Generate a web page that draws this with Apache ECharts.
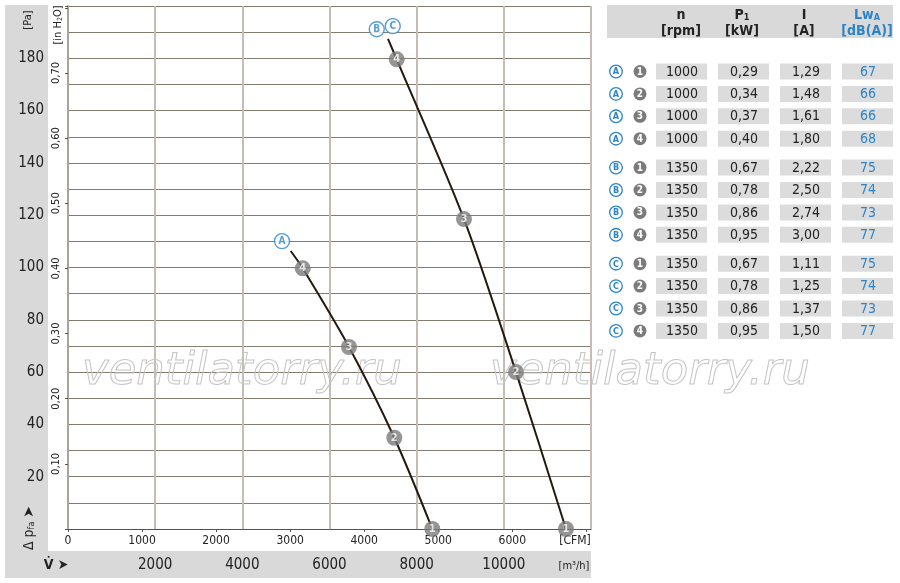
<!DOCTYPE html>
<html><head><meta charset="utf-8">
<script src="https://cdn.jsdelivr.net/npm/echarts@6/dist/echarts.min.js"></script>
<style>html,body{margin:0;padding:0;background:#fff}#c{width:900px;height:583px}</style>
</head><body><div id="c"></div>
<script>
const FONT = "'Liberation Sans Narrow','DejaVu Sans Condensed','Liberation Sans',sans-serif";
// ---- curves (flow in m3/h, pressure in Pa) ----
const flowA = [5110, 5385, 6447, 7487, 8359];
const pressA = [106.3, 99.7, 69.6, 34.9, 0];
const flowBC = [7342, 7542, 9086, 10279, 11426];
const pressBC = [187.4, 179.6, 118.5, 60.0, 0];
const pointLabels = ['', '4', '3', '2', '1'];
// curve tags
const curveTags = ['A', 'B', 'C'];
const tagFlow = [4910, 7084, 7451];
const tagPress = [110.1, 191.1, 192.3];
// ---- axis ticks ----
const flowTicks = [2000, 4000, 6000, 8000, 10000];
const cfmTicks = [0, 1000, 2000, 3000, 4000, 5000, 6000];
const paTicks = [20, 40, 60, 80, 100, 120, 140, 160, 180];
const inchTicks = [0.1, 0.2, 0.3, 0.4, 0.5, 0.6, 0.7];
const M3H_PER_CFM = 1.69901;
const PA_PER_INH2O = 249.089;
// ---- table ----
const rowCurve = ['A','A','A','A','B','B','B','B','C','C','C','C'];
const rowPoint = ['1','2','3','4','1','2','3','4','1','2','3','4'];
const rowSpeed = [1000,1000,1000,1000,1350,1350,1350,1350,1350,1350,1350,1350];
const rowPower = [0.29,0.34,0.37,0.40,0.67,0.78,0.86,0.95,0.67,0.78,0.86,0.95];
const rowCurrent = [1.29,1.48,1.61,1.80,2.22,2.50,2.74,3.00,1.11,1.25,1.37,1.50];
const rowNoise = [67,66,66,68,75,74,73,77,75,74,73,77];

const BLUE = '#2b84c8';
const GRAYC = '#7b7b7b';
const comma = v => v.toFixed(2).replace('.', ',');

const chart = echarts.init(document.getElementById('c'), null, {renderer: 'canvas'});

function pairs(xs, ys) { return xs.map((x, i) => [x, ys[i]]); }
function opPoints(xs, ys) {
  return xs.map((x, i) => ({value: [x, ys[i]], name: pointLabels[i]})).filter(d => d.name !== '');
}

const graphics = [];
// background bands
graphics.push({type: 'rect', z: -10, shape: {x: 5, y: 5, width: 43, height: 573}, style: {fill: '#d9d9d9'}});
graphics.push({type: 'rect', z: -10, shape: {x: 5, y: 551, width: 586, height: 27}, style: {fill: '#d9d9d9'}});
graphics.push({type: 'rect', z: -10, shape: {x: 607, y: 5, width: 286, height: 33}, style: {fill: '#d9d9d9'}});
// axis captions
graphics.push({type: 'text', x: 28, y: 20, rotation: Math.PI / 2,
  style: {text: '[Pa]', font: '11px ' + FONT, fill: '#222', align: 'center', verticalAlign: 'middle'}});
graphics.push({type: 'text', x: 57, y: 25, rotation: Math.PI / 2,
  style: {text: '{a|[in H}{s|2}{a|O]}', align: 'center', verticalAlign: 'middle',
    rich: {a: {fontSize: 11, fontFamily: FONT, fill: '#222', verticalAlign: 'bottom', lineHeight: 13},
           s: {fontSize: 7, fontFamily: FONT, fill: '#222', verticalAlign: 'bottom', lineHeight: 9}}}});
graphics.push({type: 'text', x: 28, y: 528, rotation: Math.PI / 2,
  style: {text: '{a|Δ p}{s|fa}{a| }{r|➤}', align: 'center', verticalAlign: 'middle',
    rich: {a: {fontSize: 14, fontFamily: FONT, fill: '#222', verticalAlign: 'bottom', lineHeight: 17},
           s: {fontSize: 9, fontFamily: FONT, fill: '#222', verticalAlign: 'bottom', lineHeight: 11},
           r: {fontSize: 14, fontFamily: 'DejaVu Sans', fill: '#222', verticalAlign: 'bottom', lineHeight: 17}}}});
graphics.push({type: 'text', x: 56, y: 565,
  style: {text: 'V\u0307 ➤', font: 'bold 14px ' + FONT, fill: '#222', align: 'center', verticalAlign: 'middle'}});
graphics.push({type: 'text', x: 574, y: 566,
  style: {text: '[m³/h]', font: '11px ' + FONT, fill: '#222', align: 'center', verticalAlign: 'middle'}});
graphics.push({type: 'text', x: 575, y: 541,
  style: {text: '[CFM]', font: '12px ' + FONT, fill: '#222', align: 'center', verticalAlign: 'middle'}});
// watermark
[82, 490].forEach(x => graphics.push({type: 'text', z: 5, x: x, y: 372,
  style: {text: 'ventilatorry.ru', font: 'oblique 45px "DejaVu Sans"', fill: 'rgba(255,255,255,0)',
    stroke: '#c4c4c4', lineWidth: 1, align: 'left', verticalAlign: 'middle'}}));
// table header
const headCols = [681, 742, 804, 867];
const headTop = ['{b|n}', '{b|P}{s|1}', '{b|I}', '{c|Lw}{t|A}'];
const headBot = ['[rpm]', '[kW]', '[A]', '[dB(A)]'];
headCols.forEach((x, i) => {
  graphics.push({type: 'text', x: x, y: 14, style: {text: headTop[i], align: 'center', verticalAlign: 'middle',
    rich: {b: {fontSize: 14, fontWeight: 'bold', fontFamily: FONT, fill: '#222', verticalAlign: 'bottom', lineHeight: 16},
           s: {fontSize: 9, fontWeight: 'bold', fontFamily: FONT, fill: '#222', verticalAlign: 'bottom', lineHeight: 10},
           c: {fontSize: 14, fontWeight: 'bold', fontFamily: FONT, fill: BLUE, verticalAlign: 'bottom', lineHeight: 16},
           t: {fontSize: 9, fontWeight: 'bold', fontFamily: FONT, fill: BLUE, verticalAlign: 'bottom', lineHeight: 10}}}});
  graphics.push({type: 'text', x: x, y: 31, style: {text: headBot[i], font: 'bold 14px ' + FONT,
    fill: i === 3 ? BLUE : '#222', align: 'center', verticalAlign: 'middle'}});
});
// table rows
const cellX = [656, 718, 780, 842];
rowCurve.forEach((c, i) => {
  const grp = Math.floor(i / 4);
  const y = 71.5 + i * 22.4 + grp * 6.5;
  graphics.push({type: 'circle', shape: {cx: 616, cy: y, r: 6.3}, style: {fill: '#fff', stroke: BLUE, lineWidth: 1.3}});
  graphics.push({type: 'text', x: 616, y: y + 0.5, style: {text: c, font: 'bold 9px ' + FONT, fill: BLUE, align: 'center', verticalAlign: 'middle'}});
  graphics.push({type: 'circle', shape: {cx: 640, cy: y, r: 6.5}, style: {fill: GRAYC}});
  graphics.push({type: 'text', x: 640, y: y + 0.5, style: {text: rowPoint[i], font: 'bold 10px ' + FONT, fill: '#fff', align: 'center', verticalAlign: 'middle'}});
  const vals = [String(rowSpeed[i]), comma(rowPower[i]), comma(rowCurrent[i]), String(rowNoise[i])];
  cellX.forEach((cx, j) => {
    graphics.push({type: 'rect', shape: {x: cx, y: y - 8, width: 51, height: 16}, style: {fill: '#dcdcdc'}});
    graphics.push({type: 'text', x: cx + 26, y: y + 0.5, style: {text: vals[j], font: '14px ' + FONT,
      fill: j === 3 ? BLUE : '#222', align: 'center', verticalAlign: 'middle'}});
  });
});

const curveLine = {type: 'line', smooth: 0.3, symbol: 'none', silent: true, z: 6,
  lineStyle: {color: '#22190f', width: 2}};
const opStyle = {type: 'scatter', z: 8, symbolSize: 16, itemStyle: {color: GRAYC},
  label: {show: true, position: 'inside', formatter: p => p.name, color: '#fff', fontWeight: 'bold', fontSize: 11, fontFamily: FONT}};

chart.setOption({
  animation: false,
  grid: {left: 68, top: 6, right: 309, bottom: 54, containLabel: false},
  xAxis: [{
    type: 'value', min: 0, max: 12000, interval: 2000,
    axisLine: {show: true, lineStyle: {color: '#5a5248', width: 1}},
    axisTick: {show: false},
    axisLabel: {margin: 29, fontSize: 15, fontFamily: FONT, color: '#222',
      formatter: v => flowTicks.includes(v) ? String(v) : ''},
    splitLine: {show: true, lineStyle: {color: '#c3bdb6', width: 2}}
  }, {
    type: 'value', min: 0, max: 12000 / M3H_PER_CFM, interval: 1000, position: 'bottom',
    axisLine: {show: false},
    axisTick: {show: true, length: 3, lineStyle: {color: '#5a5248'}},
    axisLabel: {margin: 6, fontSize: 12, fontFamily: FONT, color: '#222', showMaxLabel: false,
      formatter: v => cfmTicks.includes(Math.round(v)) ? String(Math.round(v)) : ''},
    splitLine: {show: false}
  }],
  yAxis: [{
    type: 'value', min: 0, max: 200, interval: 10,
    axisLine: {show: true, lineStyle: {color: '#aaa39b', width: 2}},
    axisTick: {show: false},
    axisLabel: {margin: 24, fontSize: 15, fontFamily: FONT, color: '#222',
      formatter: v => paTicks.includes(v) ? String(v) : ''},
    splitLine: {show: true, lineStyle: {color: '#857c70', width: 1}}
  }, {
    type: 'value', min: 0, max: 200 / PA_PER_INH2O, interval: 0.1, position: 'left',
    axisLine: {show: false},
    axisTick: {show: true, length: 3, lineStyle: {color: '#5a5248'}},
    axisLabel: {margin: 6, rotate: 90, fontSize: 11, fontFamily: FONT, color: '#222',
      formatter: v => inchTicks.some(t => Math.abs(t - v) < 1e-6) ? v.toFixed(2).replace('.', ',') : ''},
    splitLine: {show: false}
  }],
  series: [
    Object.assign({}, curveLine, {data: pairs(flowA, pressA)}),
    Object.assign({}, curveLine, {data: pairs(flowBC, pressBC)}),
    Object.assign({}, opStyle, {data: opPoints(flowA, pressA)}),
    Object.assign({}, opStyle, {data: opPoints(flowBC, pressBC)}),
    {type: 'scatter', z: 9, symbolSize: 15,
      itemStyle: {color: '#fff', borderColor: BLUE, borderWidth: 1.4},
      label: {show: true, position: 'inside', formatter: p => p.name, color: BLUE, fontWeight: 'bold', fontSize: 10, fontFamily: FONT},
      data: curveTags.map((t, i) => ({name: t, value: [tagFlow[i], tagPress[i]]}))}
  ],
  graphic: graphics
});
</script></body></html>
